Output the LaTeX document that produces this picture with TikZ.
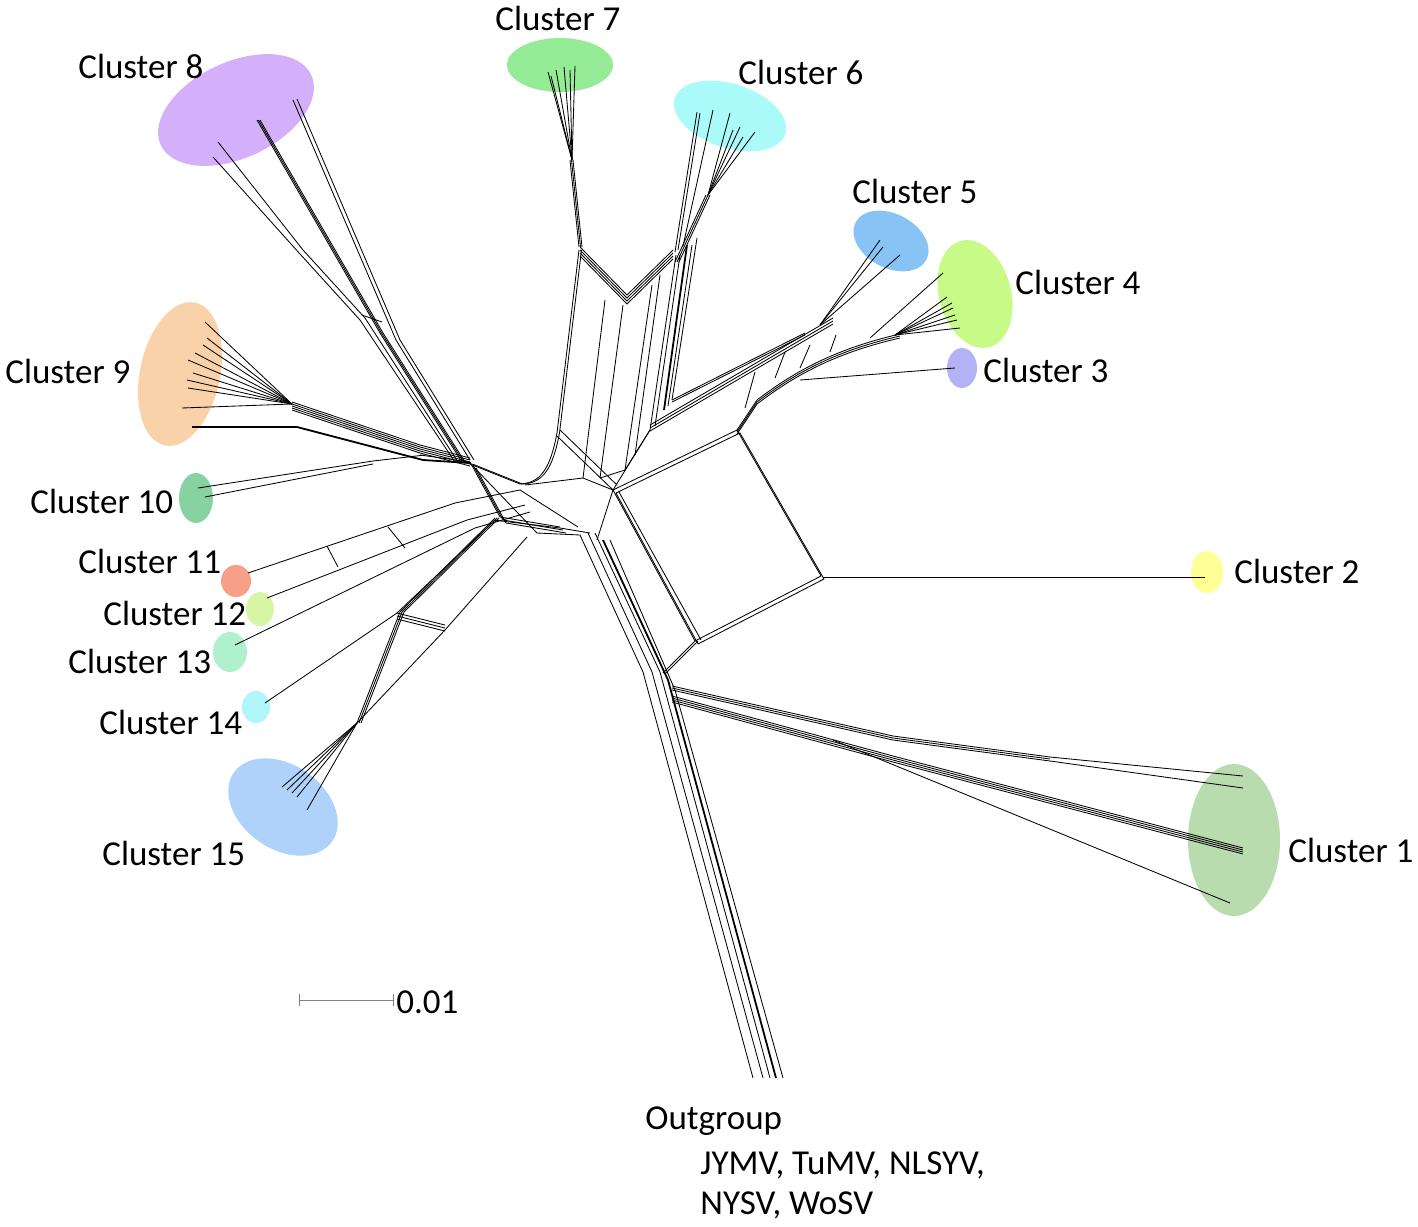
\documentclass[tikz,border=0pt]{standalone}
\usepackage{fontspec}
\setmainfont{Carlito}
\usepackage{xcolor}
\usetikzlibrary{positioning}

\definecolor{cone}{RGB}{185,220,175}
\definecolor{ctwo}{RGB}{255,255,150}
\definecolor{cthree}{RGB}{178,178,245}
\definecolor{cfour}{RGB}{200,250,135}
\definecolor{cfive}{RGB}{135,195,245}
\definecolor{csix}{RGB}{170,250,250}
\definecolor{cseven}{RGB}{150,235,150}
\definecolor{ceight}{RGB}{213,176,250}
\definecolor{cnine}{RGB}{250,210,170}
\definecolor{cten}{RGB}{135,210,160}
\definecolor{celeven}{RGB}{245,160,135}
\definecolor{ctwelve}{RGB}{215,245,165}
\definecolor{cthirteen}{RGB}{175,240,205}
\definecolor{cfourteen}{RGB}{175,245,250}
\definecolor{cfifteen}{RGB}{175,210,250}

\begin{document}
\begin{tikzpicture}[x=0.5pt,y=-0.5pt,
    net/.style={line width=0.42pt},
    netb/.style={line width=0.9pt},
    lab/.style={anchor=base west,inner sep=0pt,font=\fontsize{17.5}{21}\selectfont}]
    \useasboundingbox (0,0) rectangle (1418,1226);

    % coloured clusters
    \fill[cone] (1234,840) ellipse [x radius=46, y radius=76];
    \fill[ctwo] (1207,572) ellipse [x radius=16, y radius=21];
    \fill[cthree] (962,368) ellipse [x radius=15, y radius=20];
    \fill[cfour] (975,294) ellipse [x radius=36, y radius=55, rotate=15];
    \fill[cfive] (891,241) ellipse [x radius=40, y radius=27, rotate=-28];
    \fill[csix] (730,116) ellipse [x radius=58, y radius=32, rotate=-18];
    \fill[cseven] (560,65) ellipse [x radius=53, y radius=27];
    \fill[ceight] (236,110) ellipse [x radius=83, y radius=48, rotate=25];
    \fill[cnine] (180,374) ellipse [x radius=40, y radius=73, rotate=-12];
    \fill[cten] (196,498) ellipse [x radius=17, y radius=25];
    \fill[celeven] (236,581) ellipse [x radius=15, y radius=16];
    \fill[ctwelve] (260,609) ellipse [x radius=14, y radius=17];
    \fill[cthirteen] (230,652) ellipse [x radius=17, y radius=20];
    \fill[cfourteen] (256,707) ellipse [x radius=14, y radius=16];
    \fill[cfifteen] (283,807) ellipse [x radius=60, y radius=42, rotate=-35];

    % cluster 7 and the V
    \foreach \x/\y in {548/72,551/76,556/70,564/67,570/70,575/66}
        \draw[net] (\x,\y) -- (572,160);
    \foreach \d in {0,1.5,3} \draw[net,shift={(\d,0)}] (570,160) -- (579,247);
    \foreach \d in {0,3,6,9} \draw[net] (580,247+\d) -- (627,295+\d) -- (673,250+\d);

    % cluster 6
    \draw[net] (675,252) -- (697,112);
    \draw[net] (678,250) -- (700,113);
    \draw[net] (683,246) -- (713,110);
    \foreach \d in {0,2,4} \draw[net] (675+\d,262) -- (706+\d,195);
    \foreach \x/\y in {730/113,733/130,740/127,743/137,755/132}
        \draw[net] (708,195) -- (\x,\y);

    % trunks of the U
    \draw[net] (676,255) -- (650,430);
    \draw[net] (680,255) -- (655,426);
    \draw[netb] (687,245) -- (664,410);
    \draw[net] (692,245) -- (668,406);
    \draw[net] (697,238) -- (672,400);
    \draw[net] (605,300) -- (583,478);
    \draw[net] (623,305) -- (600,478);
    \draw[net] (652,285) -- (625,470);
    \draw[net] (660,275) -- (635,455);
    \foreach \d in {0,2.5} \draw[net,shift={(\d,0)}] (579,250) -- (557,433)
        .. controls (550,470) and (540,483) .. (520,484) -- (470,464);
    \draw[net] (557,436) -- (613,490);
    \draw[net] (560,430) -- (617,485);

    % clusters 3, 4 and 5
    \foreach \d in {0,3,6} \draw[net,shift={(0,\d)}] (650,425) -- (833,318);
    \foreach \d in {0,2} \draw[net,shift={(0,\d)}] (672,400) -- (805,333);
    \foreach \x/\y in {880/240,883/247,900/255} \draw[net] (820,325) -- (\x,\y);
    \foreach \d in {0,2,4} \draw[net,shift={(0,\d)}] (737,430) -- (757,400)
        .. controls (790,375) and (830,350) .. (900,334);
    \draw[net] (870,338) -- (943,273);
    \foreach \x/\y in {947/297,952/303,953/308,955/315,957/320,960/328}
        \draw[net] (895,335) -- (\x,\y);
    \draw[net] (800,380) -- (955,368);
    \draw[net] (745,408) -- (755,372);
    \draw[net] (775,378) -- (785,352);
    \draw[net] (800,368) -- (810,345);
    \draw[net] (830,352) -- (836,335);

    % box and cluster 2
    \foreach \d in {0,3} \draw[net,shift={(\d,\d)}] (613,490) -- (737,430) -- (821,576) -- (695,641) -- cycle;
    \draw[net] (619,492) -- (701,640);
    \draw[net] (823,577) -- (1205,577);
    \foreach \d in {0,3} \draw[net,shift={(\d,0)}] (695,641) -- (663,673);

    % outgroup
    \draw[net] (580,535) -- (643,672) -- (753,1078);
    \draw[net] (588,533) -- (652,672) -- (763,1078);
    \draw[net] (595,533) -- (660,672) -- (770,1078);
    \draw[netb] (603,540) -- (668,680) -- (776,1078);
    \draw[net] (610,540) -- (675,690) -- (783,1078);

    % cluster 1
    \foreach \d in {0,2,4} \draw[net,shift={(0,\d)}] (672,686) -- (893,736) -- (1050,757);
    \draw[net] (1050,757) -- (1243,776);
    \draw[net] (1050,761) -- (1243,788);
    \foreach \d in {0,2,4,6} \draw[net,shift={(0,\d)}] (672,696) -- (893,756) -- (1243,848);
    \draw[net] (833,740) -- (1230,903);

    % cluster 8
    \draw[net] (293,100) -- (396,340) -- (470,460);
    \draw[net] (297,99) -- (400,340) -- (474,460);
    \foreach \d in {0,1.5,3} \draw[net,shift={(\d,0)}] (257,120) -- (380,333) -- (462,462);
    \draw[net] (218,142) -- (303,250) -- (365,318) -- (458,462);
    \draw[net] (213,157) -- (300,254) -- (360,320) -- (455,462);
    \draw[net] (362,315) -- (382,322);

    % cluster 9 and 10
    \foreach \x/\y in {205/322,207/338,203/345,195/353,188/360,193/373,187/380,188/388,182/408}
        \draw[net] (\x,\y) -- (292,404);
    \draw[netb] (192,427) -- (297,427) -- (423,460) -- (470,463);
    \foreach \d in {0,2,4,6,8} \draw[net,shift={(0,\d)}] (292,402) -- (420,445) -- (470,458);
    \draw[net] (198,488) -- (373,461) -- (425,455);
    \draw[net] (205,497) -- (373,464);

    % clusters 11 to 15
    \draw[net] (248,573) -- (455,503) -- (520,490);
    \draw[net] (267,598) -- (467,520) -- (525,505);
    \draw[net] (235,645) -- (475,528) -- (530,512);
    \draw[net] (265,703) -- (397,613) -- (493,522);
    \draw[net] (327,546) -- (338,567);
    \draw[net] (388,527) -- (405,548);
    \foreach \d in {0,3,6} \draw[net,shift={(0,\d)}] (397,613) -- (445,625);
    \foreach \x/\y in {282/787,287/790,292/793,297/797,307/810}
        \draw[net] (\x,\y) -- (357,723);
    \foreach \d in {0,2,4} \draw[net,shift={(\d,0)}] (357,723) -- (400,612) -- (495,518);
    \draw[net] (357,723) -- (445,630) -- (527,537);

    % centre
    \foreach \d in {0,3,6} \draw[net,shift={(\d,\d)}] (470,462) -- (500,517) -- (560,527);
    \draw[net] (470,463) -- (537,533) -- (580,535);
    \draw[net] (420,455) -- (470,462);
    \draw[net] (493,520) -- (560,528) -- (590,533);
    \draw[net] (520,490) -- (578,527);
    \draw[net] (525,485) -- (583,478) -- (613,490) -- (597,540);
    \draw[net] (600,478) -- (625,470) -- (650,430);
    \draw[net] (613,490) -- (650,430);

    % labels
    \node[lab] (l1) at (1288,862) {Cluster 1};
    \node[lab] (l2) at (1234,583) {Cluster 2};
    \node[lab] (l3) at (983,382) {Cluster 3};
    \node[lab] (l4) at (1015,294) {Cluster 4};
    \node[lab] (l5) at (852,203) {Cluster 5};
    \node[lab] (l6) at (738,84) {Cluster 6};
    \node[lab] (l7) at (495,31) {Cluster 7};
    \node[lab] (l8) at (78,78) {Cluster 8};
    \node[lab] (l9) at (5,383) {Cluster 9};
    \node[lab] (l10) at (30,513) {Cluster 10};
    \node[lab] (l11) at (78,573) {Cluster 11};
    \node[lab] (l12) at (103,625) {Cluster 12};
    \node[lab] (l13) at (68,673) {Cluster 13};
    \node[lab] (l14) at (99,734) {Cluster 14};
    \node[lab] (l15) at (102,865) {Cluster 15};
    \node[lab] (out) at (645,1129) {Outgroup};
    \node[lab] (out2) at (700,1174) {JYMV, TuMV, NLSYV,};
    \node[lab] (out3) at (700,1214) {NYSV, WoSV};

    % scale
    \coordinate (sa) at (299,1000);
    \node[lab] (sc) at (396,1013) {0.01};
    \draw[gray, line width=0.5pt, |-|] (sa) -- (394,1000);
\end{tikzpicture}
\end{document}
